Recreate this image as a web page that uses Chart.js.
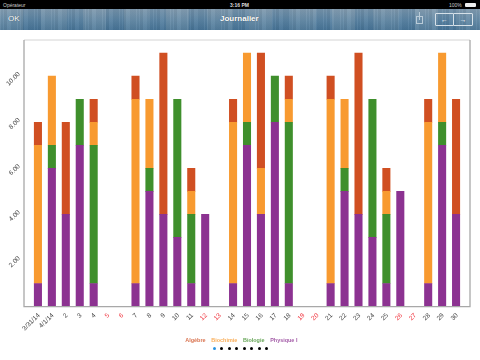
<!DOCTYPE html>
<html><head><meta charset="utf-8">
<script src="https://cdn.jsdelivr.net/npm/chart.js@4"></script>
<style>
html,body{margin:0;padding:0;background:#fff;width:480px;height:360px;overflow:hidden;font-family:"Liberation Sans",Arial,sans-serif}
#c{position:absolute;left:0;top:0}
.abs{position:absolute}
#status{left:0;top:0;width:480px;height:9px;background:#000;color:#ccc;font-size:5px;line-height:10px}
#nav{left:0;top:9px;width:480px;height:21px;color:#fff;
background:
repeating-linear-gradient(90deg,rgba(255,255,255,.05) 0 1px,rgba(0,0,0,.03) 1px 3px,rgba(255,255,255,.03) 3px 4px,rgba(0,0,0,.05) 4px 7px,rgba(255,255,255,.04) 7px 11px,rgba(0,0,0,.03) 11px 17px),
repeating-linear-gradient(90deg,rgba(170,185,195,.14) 0 23px,rgba(40,90,135,.12) 23px 41px,rgba(150,170,185,.11) 41px 67px,rgba(50,100,145,.12) 67px 83px),
linear-gradient(#7d98ad,#5f87a5 55%,#4a7697)}
.navt{font-weight:bold;text-shadow:0 0 1px rgba(0,0,0,.5)}
.dot{position:absolute;top:346.5px;width:3px;height:3px;border-radius:50%;background:#000}
</style></head><body>
<canvas id="c" width="480" height="360"></canvas>
<div id="status" class="abs">
 <span class="abs" style="left:3px">Opérateur</span>
 <span class="abs" style="left:230px;font-weight:bold;color:#ddd">3:16 PM</span>
 <span class="abs" style="left:449px">100%</span>
 <span class="abs" style="left:465px;top:2.5px;width:11px;height:4px;background:#eee;border-radius:1px"></span>
</div>
<div id="nav" class="abs">
 <span class="abs navt" style="left:8px;top:5px;font-size:8px;font-weight:normal">OK</span>
 <span class="abs navt" style="left:220px;top:5px;font-size:8px">Journalier</span>
 <span class="abs" style="left:416px;top:7px;width:7px;height:8px;border:1px solid #b9cbd8;box-sizing:border-box"></span>
 <span class="abs" style="left:419px;top:3px;width:1px;height:8px;background:#b9cbd8"></span>
 <span class="abs" style="left:435px;top:4px;width:19px;height:13px;border:1px solid #d5e0e8;border-radius:1px;box-sizing:border-box;font-size:7px;line-height:11px;text-align:center;font-weight:bold">←</span>
 <span class="abs" style="left:453px;top:4px;width:20px;height:13px;border:1px solid #d5e0e8;border-radius:1px;box-sizing:border-box;font-size:7px;line-height:11px;text-align:center;font-weight:bold">→</span>
</div>
<i class="dot" style="left:212.5px;background:#2a93e0"></i>
<i class="dot" style="left:220px"></i><i class="dot" style="left:227.5px"></i><i class="dot" style="left:235px"></i><i class="dot" style="left:242.5px"></i><i class="dot" style="left:250px"></i><i class="dot" style="left:257.5px"></i><i class="dot" style="left:265px"></i>
<script>
const categories=['3/31/14','4/1/14','2','3','4','5','6','7','8','9','10','11','12','13','14','15','16','17','18','19','20','21','22','23','24','25','26','27','28','29','30'];
const weekendLabels=['5','6','12','13','19','20','26','27'];
const yTicks=[2,4,6,8,10];
const physique=[1,6,4,7,1,0,0,1,5,4,3,1,4,0,1,7,4,8,1,0,0,1,5,4,3,1,5,0,1,7,4];
const biologie=[0,1,0,2,6,0,0,0,1,0,6,3,0,0,0,1,0,2,7,0,0,0,1,0,6,3,0,0,0,1,0];
const biochimie=[6,3,0,0,1,0,0,8,3,0,0,1,0,0,7,3,2,0,1,0,0,8,3,0,0,1,0,0,7,3,0];
const algebre=[1,0,4,0,1,0,0,1,0,7,0,1,0,0,1,0,5,0,1,0,0,1,0,7,0,1,0,0,1,0,5];
const colors={algebre:'#d04f22',biochimie:'#f89a30',biologie:'#3f8f2c',physique:'#8c3291'};

const labels=['',...categories,''];
const pad=a=>[null,...a.map(v=>v===0?null:v),null];
const ds=(label,data,color)=>({label,data:pad(data),backgroundColor:color,borderWidth:0,barThickness:7.4,stack:'s'});

const frame={id:'frame',
 afterLayout(ch){ch.legend.left+=5;ch.legend.right+=5;},
 afterDraw(ch){
  const {ctx,chartArea:a}=ch;ctx.save();
  ctx.strokeStyle='#d4d4d4';ctx.lineWidth=1;
  ctx.beginPath();ctx.moveTo(a.left,a.top);ctx.lineTo(a.right,a.top);ctx.stroke();
  ctx.strokeStyle='#a8a8a8';ctx.lineWidth=1.3;
  ctx.beginPath();ctx.moveTo(a.left,a.top);ctx.lineTo(a.left,a.bottom);ctx.lineTo(a.right,a.bottom);ctx.lineTo(a.right,a.top);ctx.stroke();
  ctx.restore();
}};

new Chart(document.getElementById('c'),{
 type:'bar',
 data:{labels,datasets:[
  ds('Physique I',physique,colors.physique),
  ds('Biologie',biologie,colors.biologie),
  ds('Biochimie',biochimie,colors.biochimie),
  ds('Algèbre',algebre,colors.algebre)]},
 plugins:[frame],
 options:{
  responsive:false,animation:false,
  layout:{padding:{top:40,right:10,left:0,bottom:7}},
  scales:{
   x:{stacked:true,offset:false,grid:{display:false},border:{display:false},
      afterFit(s){s.height=28},
      ticks:{autoSkip:false,minRotation:45,maxRotation:45,padding:-3,labelOffset:1,font:{size:6.5,family:'"Liberation Sans"'},
        color:c=>weekendLabels.includes(labels[c.index])?'#f0303a':'#444'}},
   y:{stacked:true,min:0,max:11.57,grid:{display:false},border:{display:false},
      afterBuildTicks(s){s.ticks=yTicks.map(v=>({value:v}))},
      afterFit(s){s.width=24},
      ticks:{minRotation:45,maxRotation:45,padding:-3,labelOffset:-3,font:{size:6.5,family:'"Liberation Sans"'},color:'#444',
        callback:v=>v.toFixed(2)}}
  },
  plugins:{
   tooltip:{enabled:false},
   legend:{position:'bottom',reverse:true,
    labels:{boxWidth:0,boxHeight:0,padding:3,font:{size:5.45,weight:'bold',family:'"Liberation Sans"'},
     generateLabels(ch){return ch.data.datasets.map((d,i)=>({text:d.label,fontColor:d.backgroundColor+'cc',fillStyle:'rgba(0,0,0,0)',strokeStyle:'rgba(0,0,0,0)',lineWidth:0,datasetIndex:i}))}}}
  }
 }
});
</script>
</body></html>
